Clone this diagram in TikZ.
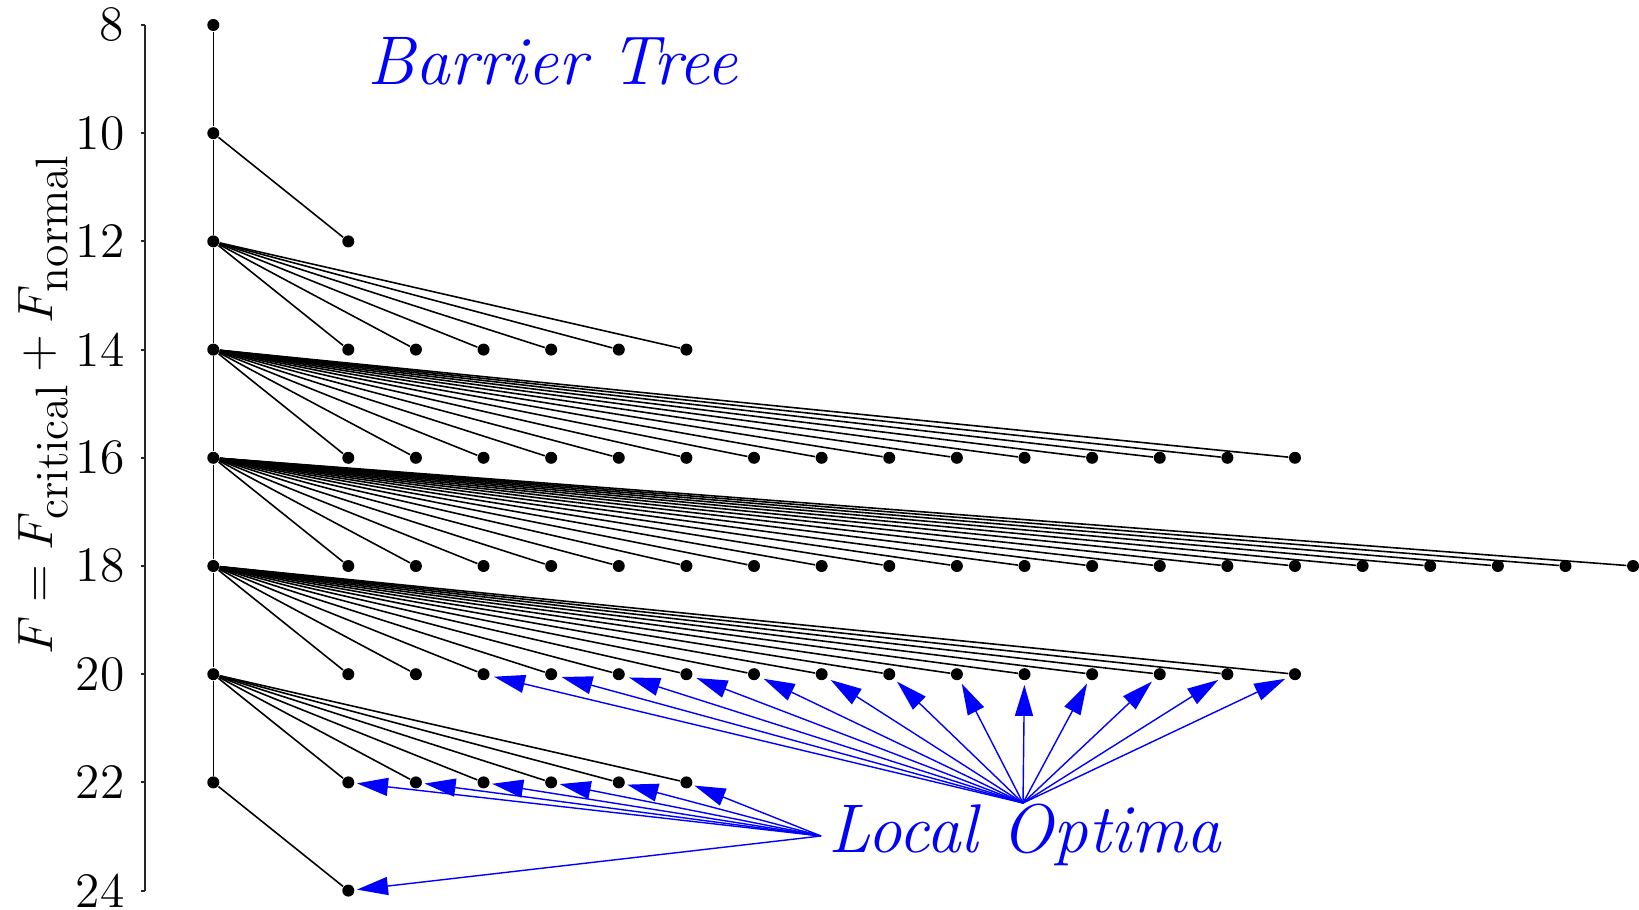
\RequirePackage{fix-cm}
\documentclass[tikz,border=0pt]{standalone}
\usetikzlibrary{arrows.meta}
\DeclareMathSizes{14.1}{14.1}{13}{10}
\begin{document}
\begin{tikzpicture}[x=0.01cm,y=-0.01cm,
  dot/.style={circle,fill=black,inner sep=0pt,minimum size=0.12cm},
  edge/.style={line width=0.45pt,black},
  spine/.style={line width=0.6pt,black!85},
  ptr/.style={blue,line width=0.4pt,-{Triangle[length=0.31cm,width=0.18cm]}},
  ticklabel/.style={font=\fontsize{14.1}{17}\selectfont,anchor=east,inner sep=0pt},
  caption/.style={font=\fontsize{19.6}{23}\selectfont\itshape,text=blue,anchor=base west,inner sep=0pt}]
\useasboundingbox (0,0) rectangle (1639,910);

% vertical axis with ticks every 2 units
\draw[spine] (145,25) -- (145,890.6);
\foreach \L in {8,10,...,24} {
  \draw[spine] (141,{25+(\L-8)*54.1}) -- (145,{25+(\L-8)*54.1});
  \node[ticklabel] (lab\L) at (125,{25+(\L-8)*54.1}) {\L};
}
\node[rotate=90,font=\fontsize{14.1}{17}\selectfont,inner sep=0pt] (ylab) at (43,404)
  {$F = F_{\mathrm{critical}} + F_{\mathrm{normal}}$};

% trunk of saddle points
\foreach \L in {8,10,...,22}
  \node[dot] (t\L) at (213.3,{25+(\L-8)*54.1}) {};
\foreach \a/\b in {8/10,10/12,12/14,14/16,16/18,18/20,20/22}
  \draw[edge] (t\a) -- (t\b);

% leaves hanging from each saddle
\foreach \L/\n in {12/0,14/5,16/14,18/19,20/14,22/5,24/0} {
  \pgfmathtruncatemacro\P{\L-2}
  \foreach \k in {0,...,\n} {
    \node[dot] (c\L-\k) at ({348.3+67.62*\k},{25+(\L-8)*54.1}) {};
    \draw[edge] (t\P) -- (c\L-\k);
  }
}

% labels
\node[caption] (title) at (367,85) {Barrier Tree};
\node[caption] (optima) at (828,853) {Local Optima};

% pointers to the local optima
\coordinate (fanA) at (1023,803);
\coordinate (fanB) at (821,836);
\foreach \k in {2,...,14}
  \draw[ptr,shorten >=0.04cm] (fanA) -- (c20-\k);
\foreach \k in {0,...,5}
  \draw[ptr,shorten >=0.02cm] (fanB) -- (c22-\k);
\draw[ptr,shorten >=0.02cm] (fanB) -- (c24-0);
\end{tikzpicture}
\end{document}
